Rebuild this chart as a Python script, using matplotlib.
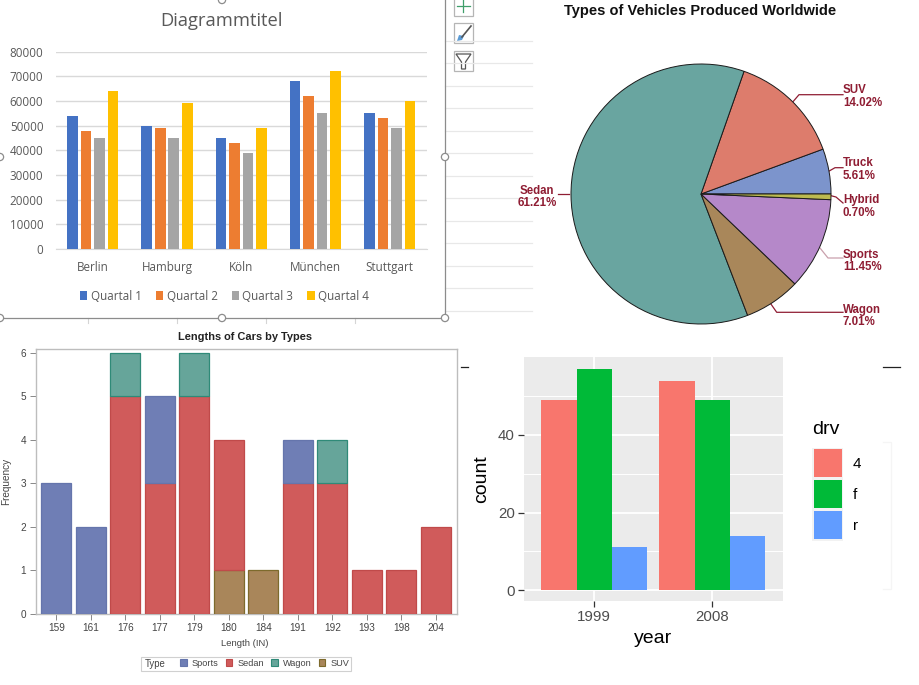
import matplotlib
matplotlib.use("Agg")
import matplotlib.pyplot as plt
from matplotlib.patches import Rectangle, Circle, Polygon

W, H = 920, 685
SANS = "Liberation Sans"
OFFICE = "Open Sans"

# --- Data ---
cities = ["Berlin", "Hamburg", "Köln", "München", "Stuttgart"]
quarter_names = ["Quartal 1", "Quartal 2", "Quartal 3", "Quartal 4"]
q1 = [54000, 50000, 45000, 68000, 55000]
q2 = [48000, 49000, 43000, 62000, 53000]
q3 = [45000, 45000, 39000, 55000, 49000]
q4 = [64000, 59000, 49000, 72000, 60000]
quarter_values = [q1, q2, q3, q4]
quarter_colors = ["#4472C4", "#ED7D31", "#A5A5A5", "#FFC000"]

pie_types = ["Truck", "SUV", "Sedan", "Wagon", "Sports", "Hybrid"]
pie_shares = [5.61, 14.02, 61.21, 7.01, 11.45, 0.70]
pie_colors = ["#7c94cc", "#dd7c6c", "#69a5a0", "#a9875a", "#b588c9", "#bcba50"]

lengths = ["159", "161", "176", "177", "179", "180", "184", "191", "192", "193", "198", "204"]
suv = [0, 0, 0, 0, 0, 1, 1, 0, 0, 0, 0, 0]
sedan = [0, 0, 5, 3, 5, 3, 0, 3, 3, 1, 1, 2]
sports = [3, 2, 0, 2, 0, 0, 0, 1, 0, 0, 0, 0]
wagon = [0, 0, 1, 0, 1, 0, 0, 0, 1, 0, 0, 0]

years = ["1999", "2008"]
drv_names = ["4", "f", "r"]
drv_4 = [49, 54]
drv_f = [57, 49]
drv_r = [11, 14]
drv_values = [drv_4, drv_f, drv_r]
drv_colors = ["#F8766D", "#00BA38", "#619CFF"]

fig = plt.figure(figsize=(W / 100, H / 100), dpi=100, facecolor="white")


def px_ax(left, top, right, bottom, **kw):
    return fig.add_axes([left / W, 1 - bottom / H, (right - left) / W, (bottom - top) / H], **kw)


def ftext(x, y, s, **kw):
    kw.setdefault("ha", "center")
    kw.setdefault("va", "center")
    fig.text(x / W, 1 - y / H, s, **kw)


# --- Background decoration (spreadsheet behind the charts) ---
bg = px_ax(0, 0, W, H, zorder=0)
bg.set_xlim(0, W)
bg.set_ylim(H, 0)
bg.axis("off")
for y in [41, 63, 86, 108, 131, 153, 176, 198, 221, 243, 266, 288, 311]:
    bg.plot([445, 532], [y, y], color="#e8e8e8", lw=0.9)
for x in [88, 177, 266, 355]:
    bg.plot([x, x], [318, 323], color="#d5d5d5", lw=0.8)
bg.plot([445, 445], [0, 318], color="#8c8c8c", lw=0.9)
bg.plot([0, 445], [318, 318], color="#8c8c8c", lw=0.9)
for box_top, box_bottom in [(-4, 15.7), (23, 43), (51, 71)]:
    bg.add_patch(Rectangle((454, box_top), 19, box_bottom - box_top, fc="white", ec="#b5b5b5", lw=0.9))
bg.plot([457, 470], [6, 6], color="#3f9f6a", lw=0.9)
bg.plot([463.5, 463.5], [0, 12], color="#3f9f6a", lw=0.9)
bg.plot([462, 471], [37, 26], color="#555555", lw=1.2)
bg.add_patch(Polygon([[457, 41], [459, 35], [464, 36], [462, 40]], fc="#5b9bd5", ec="none"))
bg.add_patch(Polygon([[456, 54], [471, 54], [465.5, 62], [465.5, 69], [461.5, 69], [461.5, 62]],
                     fc="white", ec="#555555", lw=0.9))
for cx, cy in [(0, 157), (445, 157), (0, 318), (222, 318), (445, 318), (222, 0)]:
    bg.add_patch(Circle((cx, cy), 3.6, fc="white", ec="#8c8c8c", lw=0.9, zorder=5))
bg.plot([461, 468], [367, 367], color="#222222", lw=0.9)
bg.plot([883, 900], [367, 367], color="#222222", lw=0.9)
bg.plot([883, 891, 891, 883], [442, 442, 589, 589], color="#f5f5f5", lw=0.9)

# --- Panel 1: Excel clustered columns ---
ax1 = px_ax(55.7, 51.7, 426.7, 249, zorder=1)
ax1.patch.set_alpha(0)
step, bw = 0.183, 0.143
for i, (vals, col, name) in enumerate(zip(quarter_values, quarter_colors, quarter_names)):
    xs = [k + (i - 1.5) * step for k in range(len(cities))]
    ax1.bar(xs, vals, width=bw, color=col, label=name, zorder=3)
ax1.set_xlim(-0.5, 4.5)
ax1.set_ylim(0, 80000)
ax1.set_yticks(range(0, 80001, 10000))
ax1.set_xticks(range(len(cities)), cities)
ax1.grid(axis="y", color="#D9D9D9", lw=1)
ax1.set_axisbelow(True)
for s in ["top", "left", "right"]:
    ax1.spines[s].set_visible(False)
ax1.spines["bottom"].set_color("#D9D9D9")
ax1.tick_params(length=0, labelcolor="#595959", labelsize=8.4)
ax1.tick_params(axis="x", pad=8.6)
ax1.tick_params(axis="y", pad=8.8)
for lab in ax1.get_xticklabels() + ax1.get_yticklabels():
    lab.set_fontfamily(OFFICE)
ftext(222, 20.5, "Diagrammtitel", fontsize=13.2, color="#595959", family=OFFICE)
fig.legend(*ax1.get_legend_handles_labels(), loc="center left", bbox_to_anchor=(80 / W, 1 - 296 / H), ncol=4,
           frameon=False, prop={"family": OFFICE, "size": 8.4}, labelcolor="#595959",
           handlelength=0.64, handleheight=0.7, handletextpad=0.29, columnspacing=1.2, borderpad=0,
           borderaxespad=0)

# --- Panel 2: pie ---
ax2 = px_ax(571, 64, 831, 324, zorder=1)
ax2.pie(pie_shares, colors=pie_colors, startangle=0, counterclock=True, radius=1,
        wedgeprops={"edgecolor": "#1a1a1a", "linewidth": 0.7})
ax2.set_xlim(-1, 1)
ax2.set_ylim(-1, 1)
ftext(700, 11.5, "Types of Vehicles Produced Worldwide", fontsize=10.5, fontweight="bold", family=SANS, color="#111111")
lab_col = "#8f1d33"
label_rows = {"SUV": (843, 90, 103), "Truck": (843, 163, 176), "Hybrid": (843, 200, 212.7),
              "Sports": (843, 255, 267.5), "Wagon": (843, 309.5, 322)}
for name, share in zip(pie_types, pie_shares):
    if name == "Sedan":
        ftext(537, 191, name, fontsize=8.3, fontweight="bold", family=SANS, color=lab_col)
        ftext(537, 203.5, f"{share:.2f}%", fontsize=8.3, fontweight="bold", family=SANS, color=lab_col)
    else:
        x, y1, y2 = label_rows[name]
        ftext(x, y1, name, ha="left", fontsize=8.3, fontweight="bold", family=SANS, color=lab_col)
        ftext(x, y2, f"{share:.2f}%", ha="left", fontsize=8.3, fontweight="bold", family=SANS, color=lab_col)
leaders = [([793, 799, 843], [101.7, 94.7, 94.7], lab_col), ([828, 835, 843], [171.7, 167.7, 167.7], lab_col),
           ([831, 836, 843], [195.7, 197, 203], lab_col), ([820, 828, 843], [248, 258, 258], "#c9a0ac"),
           ([770, 776.7, 843], [302.7, 312.3, 312.3], lab_col), ([558, 569], [194, 194], lab_col)]
for xs, ys, col in leaders:
    bg.plot(xs, ys, color=col, lw=0.9)

# --- Panel 3: stacked histogram ---
ax3 = px_ax(35.7, 349.3, 456.7, 613.7, zorder=1)
stack_series = [("SUV", suv, "#a9865a", "#7d6a2c"), ("Sedan", sedan, "#d05b5b", "#c04a4a"),
                ("Sports", sports, "#6f7eb5", "#6575ac"), ("Wagon", wagon, "#66a59a", "#2f8a78")]
base = [0] * len(lengths)
handles3 = {}
for name, vals, col, edge in stack_series:
    cont = ax3.bar(range(len(lengths)), vals, bottom=base, width=0.87, color=col, edgecolor=edge, lw=0.9, zorder=3,
                   label=name)
    for patch, v in zip(cont.patches, vals):
        patch.set_visible(v > 0)
    handles3[name] = Rectangle((0, 0), 1, 1, fc=col, ec=edge, lw=0.8)
    base = [a + b for a, b in zip(base, vals)]
ax3.set_xlim(-0.6, 11.6)
ax3.set_ylim(0, 6 * 264.4 / 261)
ax3.set_yticks(range(7))
ax3.set_xticks(range(len(lengths)), lengths)
for s in ax3.spines.values():
    s.set_color("#bdbdbd")
    s.set_linewidth(1)
ax3.tick_params(color="#888888", labelcolor="#444444", labelsize=7.2, length=4, width=0.7, pad=3)
for lab in ax3.get_xticklabels() + ax3.get_yticklabels():
    lab.set_fontfamily(SANS)
ftext(245, 337, "Lengths of Cars by Types", fontsize=7.9, fontweight="bold", family=SANS, color="#222222")
ftext(245, 643, "Length (IN)", fontsize=6.8, family=SANS, color="#444444")
ftext(6.5, 481, "Frequency", fontsize=7.2, family=SANS, color="#444444", rotation=90)
bg.add_patch(Rectangle((141, 657), 210, 13.5, fc="white", ec="#d0d0d0", lw=0.8))
ftext(145, 664, "Type", ha="left", fontsize=6.9, family=SANS, color="#444444")
fig.legend([handles3[k] for k in ["Sports", "Sedan", "Wagon", "SUV"]], ["Sports", "Sedan", "Wagon", "SUV"],
           loc="center left", bbox_to_anchor=(180 / W, 1 - 663.5 / H), ncol=4, frameon=False,
           prop={"family": SANS, "size": 6.6}, labelcolor="#444444", handlelength=0.73, handleheight=0.75,
           handletextpad=0.55, columnspacing=0.78, borderpad=0, borderaxespad=0)

# --- Panel 4: ggplot-style dodged bars ---
ax4 = px_ax(524, 357.3, 783, 601, zorder=1, facecolor="#EBEBEB")
dodge = 0.3
for i, (vals, col, name) in enumerate(zip(drv_values, drv_colors, drv_names)):
    ax4.bar([k + (i - 1) * dodge for k in range(len(years))], vals, width=dodge, color=col, label=name, zorder=3)
ax4.set_xlim(-0.596, 1.6)
ax4.set_ylim(-2.8, 60)
ax4.set_xticks(range(len(years)), years)
ax4.set_yticks([0, 20, 40])
ax4.set_yticks([10, 30, 50], minor=True)
ax4.grid(which="major", color="white", lw=1.3, zorder=1)
ax4.grid(which="minor", axis="y", color="white", lw=0.7, zorder=1)
ax4.set_axisbelow(True)
for s in ax4.spines.values():
    s.set_visible(False)
ax4.tick_params(which="minor", length=0)
ax4.tick_params(which="major", color="#333333", labelcolor="#4D4D4D", labelsize=10.8, length=4, width=0.9, pad=2.5)
for lab in ax4.get_xticklabels() + ax4.get_yticklabels():
    lab.set_fontfamily(SANS)
ftext(482, 479, "count", fontsize=14, family=SANS, rotation=90)
ftext(653, 638.5, "year", fontsize=14, family=SANS)
ftext(812.5, 429, "drv", ha="left", fontsize=14, family=SANS)
bg.add_patch(Rectangle((812, 448), 31, 92.5, fc="#f2f2f2", ec="none"))
fig.legend(*ax4.get_legend_handles_labels(), loc="upper left", bbox_to_anchor=(814 / W, 1 - 449 / H),
           frameon=False, prop={"family": SANS, "size": 11}, handlelength=1.83, handleheight=2.44,
           handletextpad=0.7, labelspacing=0.2, borderpad=0, borderaxespad=0)

fig.savefig("out.png", dpi=100)
